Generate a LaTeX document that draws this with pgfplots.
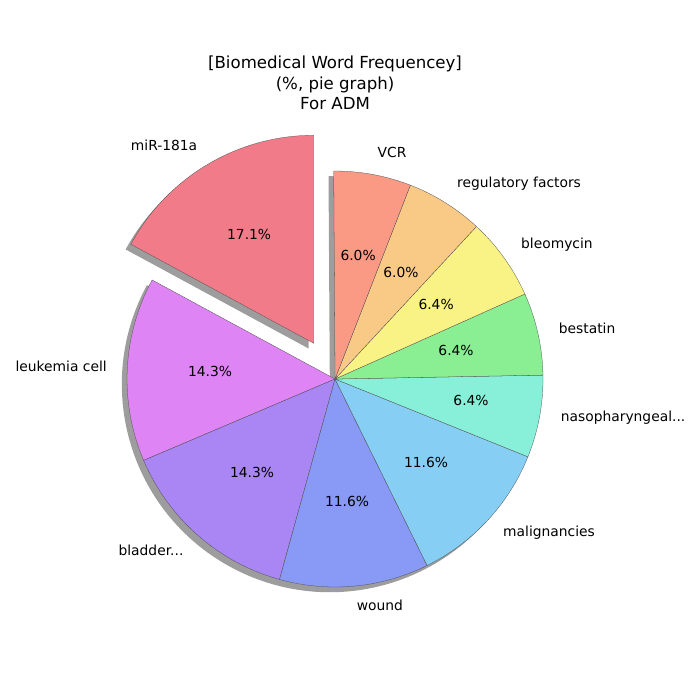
\documentclass[border=0pt]{standalone}
\usepackage{pgfplots}
\pgfplotsset{compat=1.18}
\usepackage{fontspec}
\setmainfont{DejaVu Sans}
\definecolor{c1}{HTML}{F27B8A}
\definecolor{c2}{HTML}{DE84F4}
\definecolor{c3}{HTML}{AA85F4}
\definecolor{c4}{HTML}{8899F6}
\definecolor{c5}{HTML}{87CEF5}
\definecolor{c6}{HTML}{88EFD9}
\definecolor{c7}{HTML}{89EF92}
\definecolor{c8}{HTML}{F9F385}
\definecolor{c9}{HTML}{F9C986}
\definecolor{c10}{HTML}{FA9A85}
\newcommand{\R}{2.08in}
\newcommand{\slice}[5]{% dx dy start end color
  \fill[#5,draw=black!70,line width=0.2pt] (axis cs:#1,#2) -- ++(#3:\R) arc[start angle=#3,end angle=#4,radius=\R] -- cycle;}
\newcommand{\shadow}[4]{%
  \fill[black!45,opacity=0.85] (axis cs:#1,#2) -- ++(#3:\R) arc[start angle=#3,end angle=#4,radius=\R] -- cycle;}
\begin{document}
\begin{tikzpicture}
\begin{axis}[scale only axis,width=7in,height=7in,
  xmin=-1.611,xmax=1.755,ymin=-1.543,ymax=1.822,hide axis,clip=false]
\path (rel axis cs:0,0) rectangle (rel axis cs:1,1);
% values (%): 17.1,14.3,14.3,11.6,11.6,6.4,6.4,6.4,6.0,6.0 ; start 90 deg, counterclockwise
\shadow{-0.1274}{0.1468}{90}{151.56}
\shadow{-0.025}{-0.025}{151.56}{450.36}
\slice{-0.1024}{0.1718}{90}{151.56}{c1}
\slice{0}{0}{151.56}{203.04}{c2}
\slice{0}{0}{203.04}{254.52}{c3}
\slice{0}{0}{254.52}{296.28}{c4}
\slice{0}{0}{296.28}{338.04}{c5}
\slice{0}{0}{338.04}{361.08}{c6}
\slice{0}{0}{361.08}{384.12}{c7}
\slice{0}{0}{384.12}{407.16}{c8}
\slice{0}{0}{407.16}{428.76}{c9}
\slice{0}{0}{428.76}{450.36}{c10}
\begin{scope}[every node/.style={font=\fontsize{10}{12}\selectfont}]
\node at (axis cs:-0.822,1.125) {miR-181a};
\node at (axis cs:-1.317,0.0625) {leukemia cell};
\node at (axis cs:-0.885,-0.822) {bladder...};
\node at (axis cs:0.216,-1.087) {wound};
\node at (axis cs:1.029,-0.740) {malignancies};
\node at (axis cs:1.385,-0.1875) {nasopharyngeal...};
\node at (axis cs:1.212,0.245) {bestatin};
\node at (axis cs:1.067,0.644) {bleomycin};
\node at (axis cs:0.885,0.9375) {regulatory factors};
\node at (axis cs:0.274,1.091) {VCR};
\node at (axis cs:-0.413,0.697) {17.1\%};
\node at (axis cs:-0.601,0.038) {14.3\%};
\node at (axis cs:-0.399,-0.447) {14.3\%};
\node at (axis cs:0.058,-0.591) {11.6\%};
\node at (axis cs:0.4375,-0.399) {11.6\%};
\node at (axis cs:0.654,-0.101) {6.4\%};
\node at (axis cs:0.582,0.139) {6.4\%};
\node at (axis cs:0.486,0.356) {6.4\%};
\node at (axis cs:0.317,0.514) {6.0\%};
\node at (axis cs:0.111,0.596) {6.0\%};
\end{scope}
\node[align=center,font=\fontsize{12}{15}\selectfont] at (axis cs:0,1.423) {[Biomedical Word Frequencey]\\(\%, pie graph)\\For ADM};
\end{axis}
\end{tikzpicture}
\end{document}
